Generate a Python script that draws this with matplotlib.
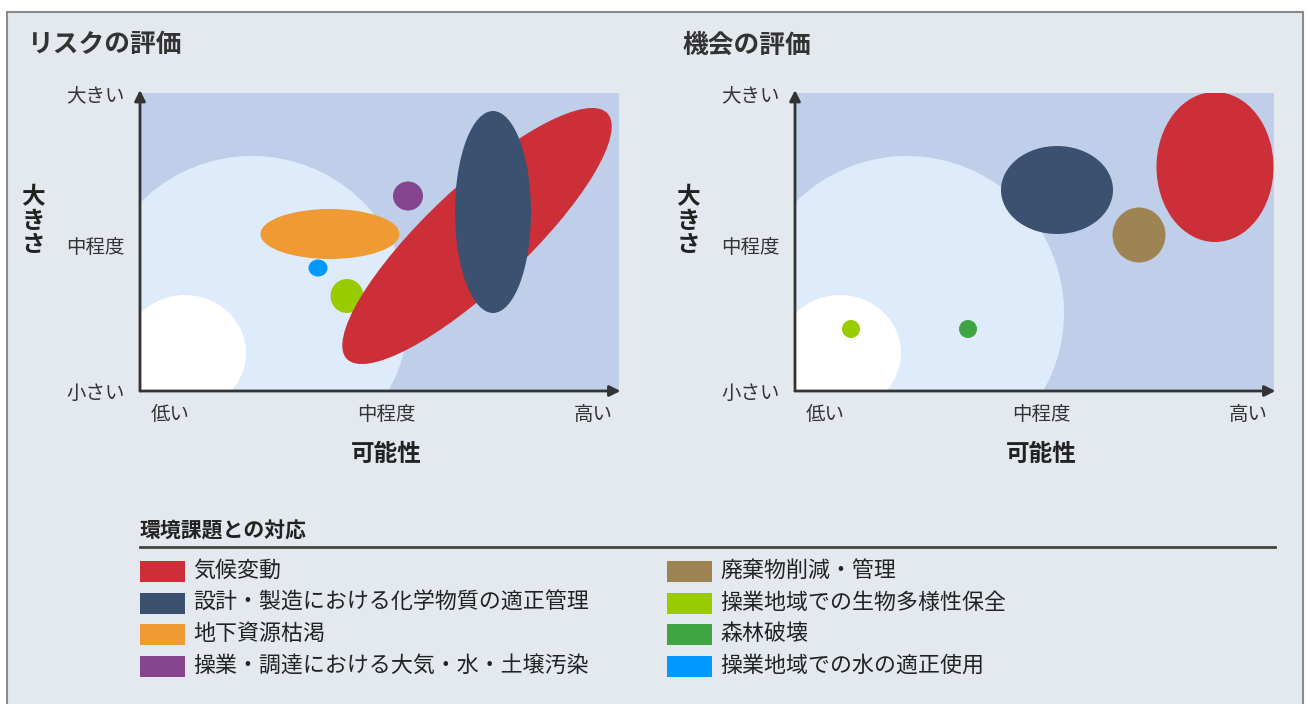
import matplotlib
matplotlib.use("Agg")
import matplotlib.pyplot as plt
from matplotlib.patches import Ellipse, Rectangle
from matplotlib.lines import Line2D

plt.rcParams['font.family'] = ['Noto Sans CJK JP', 'DejaVu Sans']

# axis ranges (possibility x, magnitude y), in chart units
XMAX, YMAX = 479, 298

x_ticks = [30, 246, 453]
x_labels = ['低い', '中程度', '高い']
y_ticks = [0, 146, 298]
y_labels = ['小さい', '中程度', '大きい']

titles = ['リスクの評価', '機会の評価']

issues = ['気候変動', '設計・製造における化学物質の適正管理', '地下資源枯渇',
          '操業・調達における大気・水・土壌汚染', '廃棄物削減・管理',
          '操業地域での生物多様性保全', '森林破壊', '操業地域での水の適正使用']
colors = ['#cc2f38', '#3c5070', '#f09a33', '#86448f', '#9e8453',
          '#99cc00', '#3ea444', '#0099ff']

# risk bubbles: issue index, centre x, centre y, width, height, angle
risk_issue = [5, 7, 2, 3, 0, 1]
risk_x = [207, 178, 190, 268, 337, 353]
risk_y = [95, 123, 157, 195, 155, 179]
risk_w = [33, 19, 139, 30, 358, 76]
risk_h = [34, 17, 50, 29, 100, 202]
risk_a = [0, 0, 0, 0, 43.3, 0]

# opportunity bubbles
opp_issue = [5, 6, 1, 4, 0]
opp_x = [56, 173, 262, 344, 420]
opp_y = [62, 62, 201, 156, 224]
opp_w = [18, 18, 112, 53, 117]
opp_h = [18, 18, 88, 55, 150]
opp_a = [0, 0, 0, 0, 0]

W, H = 1310, 704
fig = plt.figure(figsize=(W / 100, H / 100), dpi=100)
fig.patch.set_facecolor('white')


def fx(px):
    return px / W


def fy(py):
    return 1 - py / H


fig.add_artist(Rectangle((fx(7), -0.05), fx(1303) - fx(7), fy(12) + 0.05,
                         transform=fig.transFigure, facecolor='#e4e8ef',
                         edgecolor='#8a8a8a', lw=1.5, zorder=0))

panels = [(140, titles[0], risk_issue, risk_x, risk_y, risk_w, risk_h, risk_a),
          (795, titles[1], opp_issue, opp_x, opp_y, opp_w, opp_h, opp_a)]

for left, title, idx, xs, ys, ws, hs, angs in panels:
    ax = fig.add_axes([fx(left), fy(391), 479 / W, 298 / H])
    ax.set_facecolor('#bfcfea')
    ax.set_xlim(0, XMAX)
    ax.set_ylim(0, YMAX)
    for s in ax.spines.values():
        s.set_visible(False)
    # zones
    ax.add_patch(Ellipse((112, 78), 314, 314, facecolor='#ddebfb', edgecolor='none'))
    ax.add_patch(Ellipse((45, 38), 122, 116, facecolor='white', edgecolor='none'))
    for i, x, y, w, h, a in zip(idx, xs, ys, ws, hs, angs):
        ax.add_patch(Ellipse((x, y), w, h, angle=a, facecolor=colors[i],
                             edgecolor='none'))
    ax.set_xticks(x_ticks, x_labels, fontsize=14, color='#333333')
    ax.set_yticks(y_ticks, y_labels, fontsize=14, color='#333333')
    ax.tick_params(length=0, pad=9)
    ax.tick_params(axis='y', pad=11)
    ax.set_xlabel('可能性', fontsize=17, fontweight='bold', color='#222222')
    ax.xaxis.set_label_coords(0.514, -0.172)
    ax.annotate('', xy=(1.003, 0), xytext=(0, 0), xycoords='axes fraction',
                arrowprops=dict(arrowstyle='-|>', color='#333333', lw=2,
                                mutation_scale=16, shrinkA=0, shrinkB=0),
                annotation_clip=False)
    ax.annotate('', xy=(0, 1.01), xytext=(0, 0), xycoords='axes fraction',
                arrowprops=dict(arrowstyle='-|>', color='#333333', lw=2,
                                mutation_scale=16, shrinkA=0, shrinkB=0),
                annotation_clip=False)
    fig.text(fx(left - 113), fy(45), title, fontsize=18.5, fontweight='bold',
             color='#333333', ha='left', va='center')
    fig.text(fx(left - 107), fy(221), '大\nき\nさ', fontsize=17, fontweight='bold',
             color='#222222', ha='center', va='center', linespacing=1.0)

# legend
fig.text(fx(140), fy(531), '環境課題との対応', fontsize=15, fontweight='bold',
         color='#222222', ha='left', va='center')
fig.add_artist(Line2D([fx(140), fx(1275)], [fy(547), fy(547)],
                      transform=fig.transFigure, color='#444444', lw=2))
row_y = [571, 603, 634, 666]
for k, (name, col) in enumerate(zip(issues, colors)):
    cx = 140 if k < 4 else 667
    cy = row_y[k % 4]
    fig.add_artist(Rectangle((fx(cx), fy(cy + 10.5)), 45 / W, 21 / H,
                             transform=fig.transFigure, facecolor=col,
                             edgecolor='none'))
    fig.text(fx(cx + 53), fy(cy), name, fontsize=15.8, color='#222222',
             ha='left', va='center')

fig.savefig('out.png', dpi=100)
